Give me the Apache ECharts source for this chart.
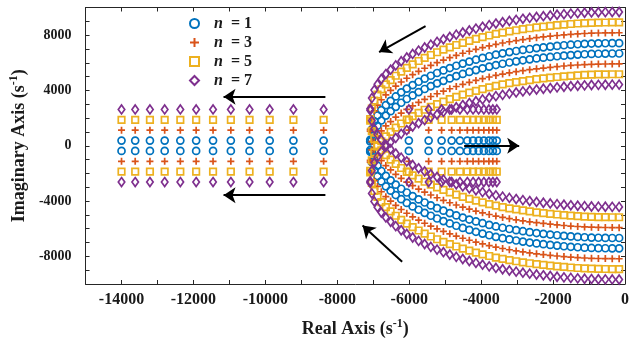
<!DOCTYPE html>
<html>
<head>
<meta charset="utf-8">
<script src="https://cdn.jsdelivr.net/npm/echarts@6/dist/echarts.min.js"></script>
<style>html,body{margin:0;padding:0;background:#fff}#c{width:632px;height:343px}</style>
</head>
<body>
<div id="c"></div>
<script>
// ---- data ----
const seriesNames = ['n = 1', 'n = 3', 'n = 5', 'n = 7'];
const harmonicOffsets = [375, 1125, 1875, 2625];           // imaginary shift of each harmonic (s^-1)
// complex branch of the base locus (upper half), real / imaginary parts
const baseRe = [-163,-355,-547,-740,-932,-1124,-1315,-1507,-1698,-1889,-2079,-2270,-2460,-2650,-2839,-3027,-3215,-3403,-3590,-3776,-3961,-4145,-4329,-4511,-4692,-4872,-5049,-5226,-5400,-5571,-5739,-5905,-6068,-6223,-6375,-6517,-6650,-6776,-6883,-6972,-7040,-7085];
const baseIm = [7048,7046,7039,7031,7018,6995,6967,6933,6893,6848,6798,6746,6689,6625,6556,6480,6398,6308,6213,6099,5978,5849,5712,5567,5412,5247,5073,4887,4689,4480,4256,4015,3758,3486,3190,2876,2559,2202,1819,1399,820,60];
// real branches after breakaway
const leftRealRe = [-14000,-13620,-13210,-12800,-12365,-11925,-11455,-10960,-10440,-9880,-9220,-8380];
const rightRealRe = [-6010,-5460,-5100,-4820,-4590,-4385,-4225,-4070,-3925,-3785,-3675,-3565];
// tick labels
const xTickLabels = [-14000,-12000,-10000,-8000,-6000,-4000,-2000,0];
const yTickLabels = [-8000,-4000,0,4000,8000];
// direction arrows (data coordinates: start, end)
const arrowTop = [[-5546, 8652], [-6838, 6777]];
const arrowBottom = [[-6197, -8385], [-7297, -5768]];
const arrowRight = [[-4473, 0], [-2942, 0]];
const arrowLeftUpper = [[-8331, 3550], [-11163, 3550]];
const arrowLeftLower = [[-8331, -3580], [-11163, -3580]];

// ---- styles ----
const colors = ['#0072BD', '#D95319', '#EDB120', '#7E2F8E'];
const plusPath = 'path://M5,0L5,10M0,5L10,5';
const symbols = ['circle', plusPath, 'rect', 'diamond'];
const symbolSizes = [7, 7, 6.5, [6.5, 9]];
const FONT = '"Liberation Serif", "Times New Roman", serif';
const TXT = '#1a1a1a';

function pointsFor(i) {
  const d = harmonicOffsets[i];
  const out = [];
  for (let k = 0; k < baseRe.length; k++) {
    out.push([baseRe[k], baseIm[k] + d]);
    out.push([baseRe[k], baseIm[k] - d]);
    out.push([baseRe[k], -baseIm[k] + d]);
    out.push([baseRe[k], -baseIm[k] - d]);
  }
  leftRealRe.concat(rightRealRe).forEach(function (re) {
    out.push([re, d]);
    out.push([re, -d]);
  });
  return out;
}

const series = seriesNames.map(function (name, i) {
  return {
    name: name,
    type: 'scatter',
    data: pointsFor(i),
    symbol: symbols[i],
    symbolSize: symbolSizes[i],
    itemStyle: { color: 'rgba(0,0,0,0)', borderColor: colors[i], borderWidth: 1.7, opacity: 1 },
    emphasis: { disabled: true },
    silent: true
  };
});

series.push({
  type: 'lines',
  coordinateSystem: 'cartesian2d',
  xAxisIndex: 0, yAxisIndex: 0,
  symbol: ['none', 'arrow'],
  symbolSize: [9, 12],
  lineStyle: { color: '#000', width: 2, opacity: 1, curveness: 0 },
  data: [arrowTop, arrowBottom, arrowRight, arrowLeftUpper, arrowLeftLower].map(function (a) { return { coords: a }; }),
  z: 10,
  silent: true
});

const axisLineStyle = { onZero: false, lineStyle: { color: '#262626', width: 1 } };
const tickStyle = { inside: true, length: 4, lineStyle: { color: '#262626', width: 1 } };
const supRich = {
  t: { fontFamily: FONT, fontWeight: 'bold', fontSize: 18, lineHeight: 22, color: TXT },
  sup: { fontFamily: FONT, fontWeight: 'bold', fontSize: 12, lineHeight: 13, verticalAlign: 'top', color: TXT }
};

const option = {
  animation: false,
  backgroundColor: '#fff',
  grid: { left: 83, top: 7.5, width: 545.7, height: 277.3, containLabel: false },
  xAxis: [
    {
      type: 'value', min: -15000, max: 0, interval: 1000, position: 'bottom',
      axisLine: axisLineStyle, axisTick: tickStyle, splitLine: { show: false },
      axisLabel: {
        fontFamily: FONT, fontWeight: 'bold', fontSize: 16, color: TXT, margin: 8,
        formatter: function (v) { return xTickLabels.indexOf(v) >= 0 ? String(v) : ''; }
      },
      name: '{t|Real Axis (s}{sup|-1}{t|)}', nameLocation: 'middle', nameGap: 34,
      nameTextStyle: { rich: supRich }
    },
    {
      type: 'value', min: -15000, max: 0, interval: 1000, position: 'top',
      axisLine: axisLineStyle, axisTick: tickStyle, splitLine: { show: false },
      axisLabel: { show: false }
    }
  ],
  yAxis: [
    {
      type: 'value', min: -10000, max: 10000, interval: 1000, position: 'left',
      axisLine: axisLineStyle, axisTick: tickStyle, splitLine: { show: false },
      axisLabel: {
        fontFamily: FONT, fontWeight: 'bold', fontSize: 14, color: TXT, margin: 14,
        formatter: function (v) { return yTickLabels.indexOf(v) >= 0 ? String(v) : ''; }
      },
      name: '{t|Imaginary Axis (s}{sup|-1}{t|)}', nameLocation: 'middle', nameGap: 46,
      nameTextStyle: { rich: supRich }
    },
    {
      type: 'value', min: -10000, max: 10000, interval: 1000, position: 'right',
      axisLine: axisLineStyle, axisTick: tickStyle, splitLine: { show: false },
      axisLabel: { show: false }
    }
  ],
  legend: {
    data: seriesNames,
    orient: 'vertical',
    left: 184, top: 10.5,
    itemWidth: 9, itemHeight: 9, itemGap: 3,
    symbolKeepAspect: true,
    selectedMode: false,
    textStyle: {
      fontFamily: FONT, fontWeight: 'bold', fontSize: 16, lineHeight: 16, color: TXT,
      rich: {
        s: { width: 10, fontSize: 16, lineHeight: 16 },
        i: { fontFamily: FONT, fontWeight: 'bold', fontStyle: 'italic', fontSize: 16, lineHeight: 16, color: TXT },
        r: { fontFamily: FONT, fontWeight: 'bold', fontSize: 16, lineHeight: 16, color: TXT }
      }
    },
    formatter: function (name) { return '{s| }{i|n}{r|  ' + name.slice(2) + '}'; }
  },
  series: series
};

const chart = echarts.init(document.getElementById('c'), null, { renderer: 'canvas' });
chart.setOption(option);
</script>
</body>
</html>
